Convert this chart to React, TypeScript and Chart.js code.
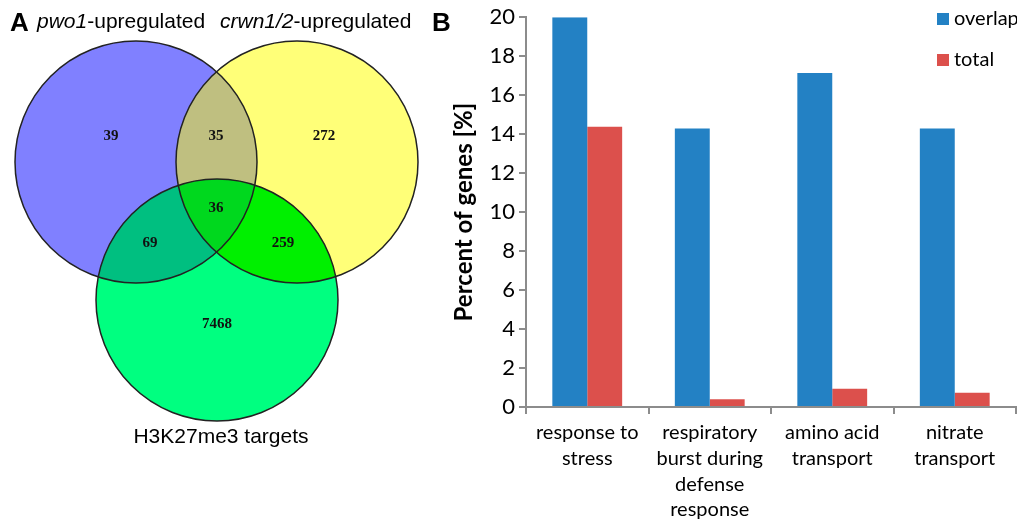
import React, { useEffect, useRef } from "react";
import { Chart, registerables } from "chart.js";

Chart.register(...registerables);

// ---------- Panel A: Venn diagram data ----------
const setLabelItalic = ["pwo1", "crwn1/2"];
const setLabelRest = ["-upregulated", "-upregulated"];
const bottomSetLabel = "H3K27me3 targets";
const circleX = [136, 297, 217];
const circleY = [162, 162, 300];
const circleR = [121, 121, 121];
const circleColors = ["#8080ff", "#ffff78", "#00ff80"];
const overlapMembers = [[0, 1], [0, 2], [1, 2], [0, 1, 2]];
const overlapColors = ["#bfbf80", "#00bf80", "#00f000", "#00d81e"];
const regionCounts = ["39", "35", "272", "69", "36", "259", "7468"];
const regionX = [111, 216, 324, 150, 216, 283, 217];
const regionY = [136, 136, 136, 243, 208, 243, 324];

// ---------- Panel B: bar chart data ----------
const categories = [
  ["response to", "stress"],
  ["respiratory", "burst during", "defense", "response"],
  ["amino acid", "transport"],
  ["nitrate", "transport"],
];
const overlapValues = [20, 14.29, 17.14, 14.29];
const totalValues = [14.38, 0.4, 0.93, 0.73];
const seriesNames = ["overlap", "total"];
const seriesColors = ["#2381c4", "#dc504c"];

const VENN_W = 460;
const H = 523;
const BAR_LEFT = 440;
const BAR_W = 1017 - BAR_LEFT;

const vennPlugin = {
  id: "vennDraw",
  afterDatasetsDraw(chart: any) {
    const { ctx } = chart;
    const xs = chart.scales.x;
    const ys = chart.scales.y;
    const px = (v: number) => xs.getPixelForValue(v);
    const py = (v: number) => ys.getPixelForValue(v);
    const pr = (r: number) => Math.abs(xs.getPixelForValue(r) - xs.getPixelForValue(0));
    const circlePath = (i: number) => {
      ctx.beginPath();
      ctx.arc(px(circleX[i]), py(circleY[i]), pr(circleR[i]), 0, Math.PI * 2);
    };
    ctx.save();
    circleColors.forEach((c, i) => {
      circlePath(i);
      ctx.fillStyle = c;
      ctx.fill();
    });
    overlapMembers.forEach((members, k) => {
      ctx.save();
      members.forEach((m) => {
        circlePath(m);
        ctx.clip();
      });
      ctx.fillStyle = overlapColors[k];
      ctx.fillRect(0, 0, chart.width, chart.height);
      ctx.restore();
    });
    ctx.strokeStyle = "#222";
    ctx.lineWidth = 1.5;
    circleColors.forEach((_, i) => {
      circlePath(i);
      ctx.stroke();
    });
    // region counts
    ctx.fillStyle = "#111";
    ctx.font = "bold 15px 'Liberation Serif', 'DejaVu Serif', serif";
    ctx.textAlign = "center";
    ctx.textBaseline = "middle";
    regionCounts.forEach((t, i) => ctx.fillText(t, px(regionX[i]), py(regionY[i])));

    // panel letters and set titles
    ctx.fillStyle = "#000";
    ctx.textAlign = "left";
    ctx.textBaseline = "alphabetic";
    ctx.font = "bold 26px 'Liberation Sans', Arial, sans-serif";
    ctx.fillText("A", 10, 31);
    ctx.fillText("B", 432, 31);
    const titleStarts = [37, 220];
    setLabelItalic.forEach((it, i) => {
      ctx.font = "italic 21px 'Liberation Sans', Arial, sans-serif";
      ctx.fillText(it, titleStarts[i], 28);
      const w = ctx.measureText(it).width;
      ctx.font = "21px 'Liberation Sans', Arial, sans-serif";
      ctx.fillText(setLabelRest[i], titleStarts[i] + w, 28);
    });
    ctx.textAlign = "center";
    ctx.textBaseline = "middle";
    ctx.font = "21px 'Liberation Sans', Arial, sans-serif";
    ctx.fillText(bottomSetLabel, 221, 437);
    ctx.restore();
  },
};

const legendPlugin = {
  id: "insideLegend",
  afterDraw(chart: any) {
    const { ctx } = chart;
    ctx.save();
    ctx.font = "20px Lato, sans-serif";
    ctx.textAlign = "left";
    ctx.textBaseline = "middle";
    chart.data.datasets.forEach((ds: any, i: number) => {
      const cy = 19 + i * 41;
      ctx.fillStyle = ds.backgroundColor;
      ctx.fillRect(937 - BAR_LEFT, cy - 6, 12, 12);
      ctx.fillStyle = "#000";
      ctx.fillText(ds.label, 954 - BAR_LEFT, cy);
    });
    ctx.restore();
  },
};

export default function App() {
  const vennRef = useRef<HTMLCanvasElement>(null);
  const barRef = useRef<HTMLCanvasElement>(null);

  useEffect(() => {
    document.body.style.margin = "0";
    const venn = new Chart(vennRef.current as HTMLCanvasElement, {
      type: "scatter",
      data: {
        datasets: [
          {
            data: regionX.map((x, i) => ({ x, y: regionY[i] })),
            pointRadius: 0,
          },
        ],
      },
      options: {
        animation: false,
        responsive: false,
        maintainAspectRatio: false,
        layout: { padding: 0 },
        plugins: { legend: { display: false }, tooltip: { enabled: false } },
        scales: {
          x: { type: "linear", min: 0, max: VENN_W, display: false },
          y: { type: "linear", min: 0, max: H, reverse: true, display: false },
        },
      },
      plugins: [vennPlugin],
    });

    const axisGray = "#8c8c8c";
    const bar = new Chart(barRef.current as HTMLCanvasElement, {
      type: "bar",
      data: {
        labels: categories,
        datasets: [
          {
            label: seriesNames[0],
            data: overlapValues,
            backgroundColor: seriesColors[0],
            categoryPercentage: 0.57,
            barPercentage: 1,
          },
          {
            label: seriesNames[1],
            data: totalValues,
            backgroundColor: seriesColors[1],
            categoryPercentage: 0.57,
            barPercentage: 1,
          },
        ],
      },
      options: {
        animation: false,
        responsive: false,
        maintainAspectRatio: false,
        layout: { padding: { top: 17, right: 1, left: 0, bottom: 0 } },
        plugins: { legend: { display: false }, tooltip: { enabled: false } },
        scales: {
          x: {
            grid: {
              display: true,
              drawOnChartArea: false,
              drawTicks: true,
              tickLength: 7,
              color: axisGray,
              lineWidth: 2,
              offset: true,
            },
            border: { color: axisGray, width: 2 },
            ticks: {
              font: { family: "Lato", size: 20, lineHeight: 1.285 },
              color: "#000",
              padding: 6,
              maxRotation: 0,
              autoSkip: false,
            },
            afterFit: (s: any) => {
              s.height = 116;
            },
          },
          y: {
            min: 0,
            max: 20,
            ticks: {
              stepSize: 2,
              font: { family: "Lato", size: 22 },
              color: "#000",
              padding: 4,
            },
            grid: {
              drawOnChartArea: false,
              tickLength: 7,
              color: axisGray,
              lineWidth: 2,
            },
            border: { color: axisGray, width: 2 },
            title: {
              display: true,
              text: "Percent of genes [%]",
              font: { family: "Lato", size: 24, weight: "bold" },
              color: "#000",
              padding: { top: 10, bottom: 0 },
            },
            afterFit: (s: any) => {
              s.width = 86;
            },
          },
        },
      },
      plugins: [legendPlugin],
    });

    return () => {
      venn.destroy();
      bar.destroy();
    };
  }, []);

  return (
    <div style={{ position: "relative", width: 1017, height: H, background: "#fff", overflow: "hidden" }}>
      <canvas
        ref={vennRef}
        width={VENN_W}
        height={H}
        style={{ position: "absolute", left: 0, top: 0, width: VENN_W, height: H }}
      />
      <canvas
        ref={barRef}
        width={BAR_W}
        height={H}
        style={{ position: "absolute", left: BAR_LEFT, top: 0, width: BAR_W, height: H }}
      />
    </div>
  );
}
